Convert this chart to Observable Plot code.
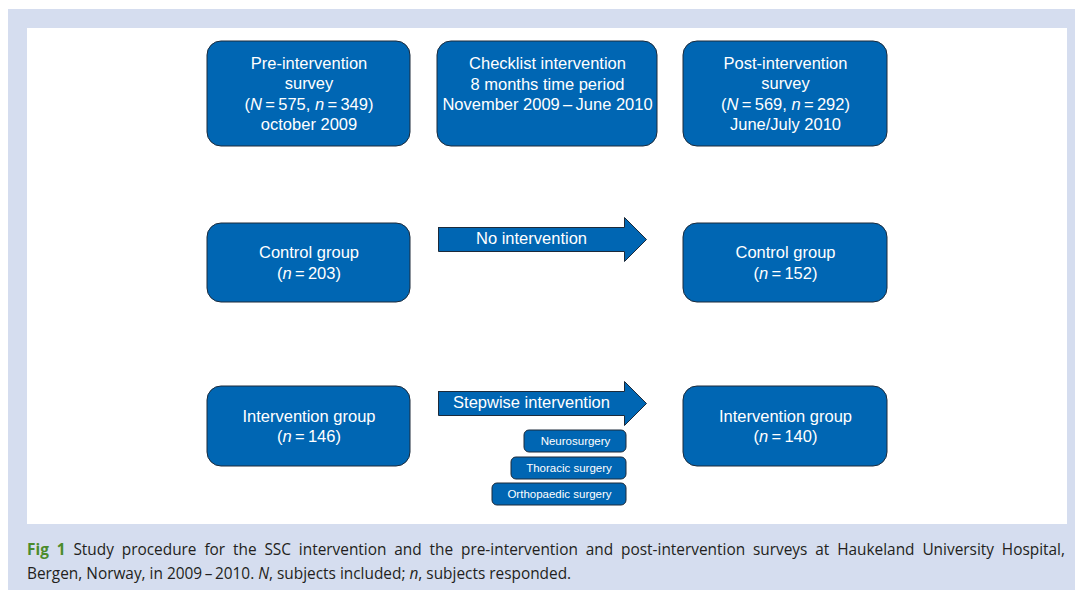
<!DOCTYPE html>
<html>
<head>
<meta charset="utf-8">
<script src="https://cdn.jsdelivr.net/npm/d3@7"></script>
<script src="https://cdn.jsdelivr.net/npm/@observablehq/plot@0.6"></script>
<style>
  html, body { margin: 0; padding: 0; background: #ffffff; width: 1075px; height: 590px; overflow: hidden; }
  #panel { position: absolute; left: 8px; top: 9px; width: 1067px; height: 581px; background: #d5ddef; }
  #chart { position: absolute; left: 27px; top: 28px; width: 1040px; height: 496px; background: #ffffff; }
  #caption { position: absolute; left: 27px; top: 538px; width: 1038px; font-family: "Open Sans", Lato, sans-serif; font-size: 15.4px; line-height: 24px; color: #231f20; }
  #caption .l1 { text-align: justify; text-align-last: justify; white-space: nowrap; }
  #caption b { color: #4b8b2b; font-weight: 700; }
</style>
</head>
<body>
<div id="panel"></div>
<div id="chart"></div>
<div id="caption"></div>
<script>
// ---- data ----
const stages = ["Pre-intervention\nsurvey", "Checklist intervention\n8 months time period\nNovember 2009\u2009\u2013\u2009June 2010", "Post-intervention\nsurvey"];
const surveyN = [575, 569];          // subjects included
const survey_n = [349, 292];         // subjects responded
const surveyDates = ["october 2009", "June/July 2010"];
const groups = ["Control group", "Intervention group"];
const preGroup_n = [203, 146];
const postGroup_n = [152, 140];
const arrowLabels = ["No intervention", "Stepwise intervention"];
const specialties = ["Neurosurgery", "Thoracic surgery", "Orthopaedic surgery"];
const captionLine1 = "Study procedure for the SSC intervention and the pre-intervention and post-intervention surveys at Haukeland University Hospital,";
const captionLine2 = "Bergen, Norway, in 2009\u2009\u2013\u20092010. <i>N</i>, subjects included; <i>n</i>, subjects responded.";

// ---- layout (page coordinates) ----
const cols = [[207, 410], [437, 657], [683, 887]];
const rows = [[41, 146], [223, 302], [386, 466]];
const arrowRows = [239, 403];
const shaft = {x1: 438, x2: 624, tip: 646, half: 12, head: 22};
const specLayout = {right: 626, lefts: [524, 511, 492], tops: [430, 457, 483], h: 22};

const eq = "\u2009=\u2009";
const boxes = [];
boxes.push({c: 0, r: 0, dy: -1, text: `${stages[0]}\n(N${eq}${surveyN[0]}, n${eq}${survey_n[0]})\n${surveyDates[0]}`});
boxes.push({c: 1, r: 0, dy: -11, text: stages[1]});
boxes.push({c: 2, r: 0, dy: -1, text: `${stages[2]}\n(N${eq}${surveyN[1]}, n${eq}${survey_n[1]})\n${surveyDates[1]}`});
groups.forEach((g, i) => {
  boxes.push({c: 0, r: i + 1, dy: -1, text: `${g}\n(n${eq}${preGroup_n[i]})`});
  boxes.push({c: 2, r: i + 1, dy: -1, text: `${g}\n(n${eq}${postGroup_n[i]})`});
});
boxes.forEach(b => {
  b.x1 = cols[b.c][0]; b.x2 = cols[b.c][1];
  b.y1 = rows[b.r][0]; b.y2 = rows[b.r][1];
  b.cx = (b.x1 + b.x2) / 2; b.cy = (b.y1 + b.y2) / 2 + b.dy;
});

const arrowPts = [];
arrowLabels.forEach((label, i) => {
  const cy = arrowRows[i];
  const pts = [
    [shaft.x1, cy - shaft.half], [shaft.x2, cy - shaft.half], [shaft.x2, cy - shaft.head],
    [shaft.tip, cy], [shaft.x2, cy + shaft.head], [shaft.x2, cy + shaft.half],
    [shaft.x1, cy + shaft.half], [shaft.x1, cy - shaft.half]
  ];
  pts.forEach(([x, y]) => arrowPts.push({id: i, x, y}));
});
const arrowText = arrowLabels.map((label, i) => ({label, x: (shaft.x1 + shaft.x2) / 2, y: arrowRows[i] - 1}));

const specs = specialties.map((s, i) => ({
  label: s, x1: specLayout.lefts[i], x2: specLayout.right,
  y1: specLayout.tops[i], y2: specLayout.tops[i] + specLayout.h
}));
specs.forEach(d => { d.cx = (d.x1 + d.x2) / 2; d.cy = (d.y1 + d.y2) / 2 - 0.5; });

const fill = "#0066b3", stroke = "#1c2a3a";
const font = "Liberation Sans, Arial, sans-serif";

const plot = Plot.plot({
  width: 1040, height: 496,
  margin: 0,
  x: {domain: [27, 1067], range: [0, 1040], axis: null},
  y: {domain: [28, 524], range: [0, 496], axis: null},
  style: {background: "transparent", fontFamily: font},
  marks: [
    Plot.rect(boxes, {x1: "x1", x2: "x2", y1: "y1", y2: "y2", fill, stroke, strokeWidth: 1, rx: 14, ry: 14}),
    Plot.text(boxes, {x: "cx", y: "cy", text: "text", fill: "white", fontSize: 16.5, lineHeight: 1.24, fontFamily: font}),
    Plot.line(arrowPts, {x: "x", y: "y", z: "id", fill, stroke, strokeWidth: 1, curve: "linear"}),
    Plot.text(arrowText, {x: "x", y: "y", text: "label", fill: "white", fontSize: 16.5, fontFamily: font}),
    Plot.rect(specs, {x1: "x1", x2: "x2", y1: "y1", y2: "y2", fill, stroke, strokeWidth: 1, rx: 5, ry: 5}),
    Plot.text(specs, {x: "cx", y: "cy", text: "label", fill: "white", fontSize: 11.5, fontFamily: font})
  ]
});

// italicise N and n symbols
plot.querySelectorAll("text, tspan").forEach(el => {
  if (el.children.length === 0 && /[Nn]\u2009=/.test(el.textContent)) {
    el.innerHTML = el.textContent.replace(/([Nn])(?=\u2009=)/g, '<tspan font-style="italic">$1</tspan>');
  }
});

document.getElementById("chart").appendChild(plot);
document.getElementById("caption").innerHTML =
  `<div class="l1"><b>Fig 1</b> ${captionLine1}</div><div>${captionLine2}</div>`;
</script>
</body>
</html>
